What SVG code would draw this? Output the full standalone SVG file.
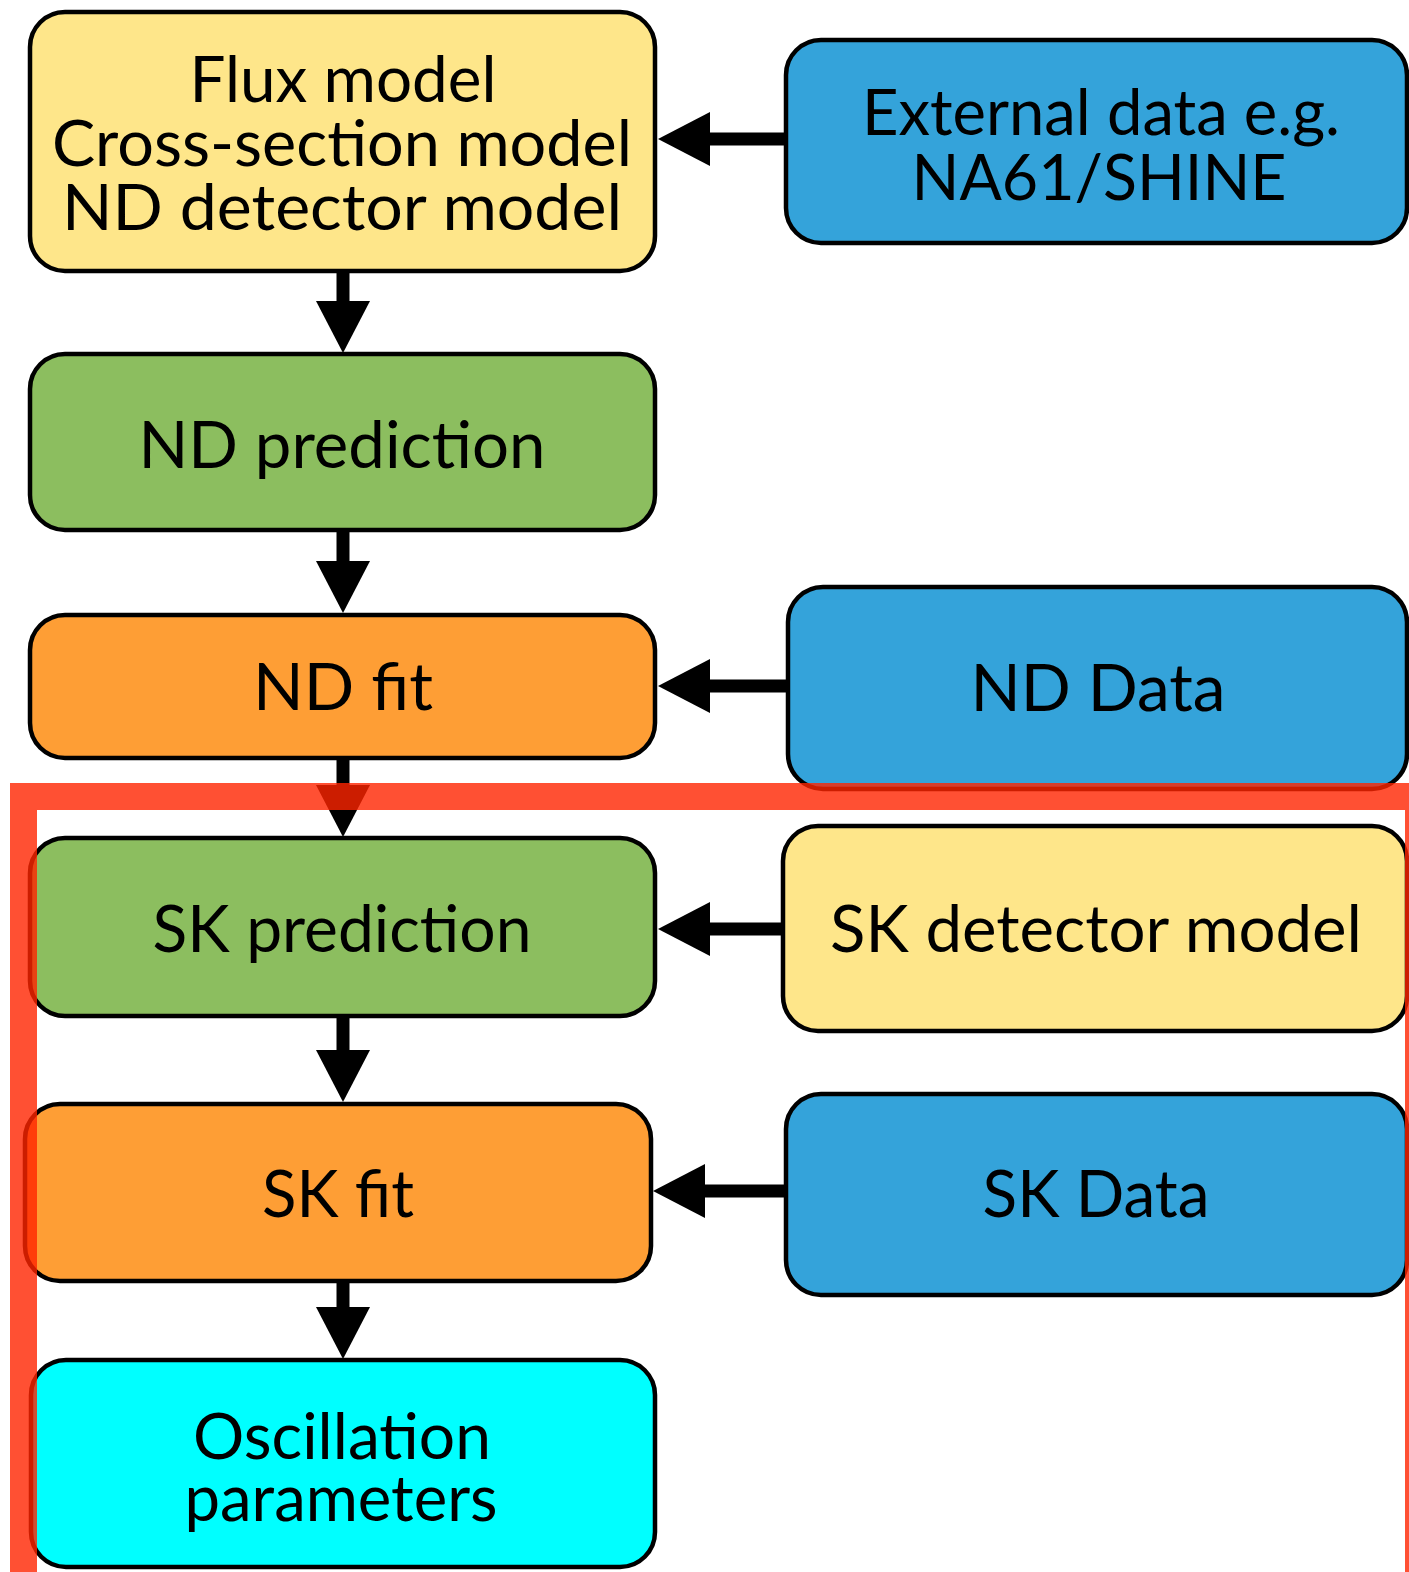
<svg xmlns="http://www.w3.org/2000/svg" width="1409" height="1572" viewBox="0 0 1409 1572">
<defs>
<style>
.box{stroke:#000;stroke-width:4.5}
.yel{fill:#FEE68A}
.blu{fill:#34A3DA}
.grn{fill:#8CBE5F}
.org{fill:#FE9E35}
.cyn{fill:#00FFFF}
.t{font-family:Lato,"Open Sans","Liberation Sans",sans-serif;font-size:66px;fill:#000;text-anchor:middle}
.m{font-size:63px}
.c{stroke:#000;stroke-width:13;fill:none}
</style>
<marker id="ah" markerUnits="userSpaceOnUse" markerWidth="54" markerHeight="56" refX="1" refY="27" orient="auto" viewBox="0 0 54 54">
<path d="M0,0 L52,27 L0,54 z" fill="#000"/>
</marker>
</defs>
<rect width="1409" height="1572" fill="#fff"/>
<g id="connectors">
<line class="c" x1="343" y1="271" x2="343" y2="302" marker-end="url(#ah)"/>
<line class="c" x1="343" y1="530" x2="343" y2="562" marker-end="url(#ah)"/>
<line class="c" x1="343" y1="757" x2="343" y2="786" marker-end="url(#ah)"/>
<line class="c" x1="343" y1="1016" x2="343" y2="1051" marker-end="url(#ah)"/>
<line class="c" x1="343" y1="1280" x2="343" y2="1308" marker-end="url(#ah)"/>
<line class="c" x1="786" y1="139" x2="709" y2="139" marker-end="url(#ah)"/>
<line class="c" x1="788" y1="686" x2="709" y2="686" marker-end="url(#ah)"/>
<line class="c" x1="783" y1="929" x2="709" y2="929" marker-end="url(#ah)"/>
<line class="c" x1="786" y1="1191" x2="704" y2="1191" marker-end="url(#ah)"/>
</g>
<g id="flux">
<rect class="box yel" x="30" y="12" width="625" height="259" rx="35"/>
<text class="t m" x="343" y="102" textLength="307" lengthAdjust="spacingAndGlyphs">Flux model</text>
<text class="t m" x="342" y="166" textLength="580" lengthAdjust="spacingAndGlyphs">Cross-section model</text>
<text class="t m" x="342" y="230" textLength="560" lengthAdjust="spacingAndGlyphs">ND detector model</text>
</g>
<g id="external">
<rect class="box blu" x="786" y="40" width="621" height="203" rx="35"/>
<text class="t m" x="1101" y="135" textLength="478" lengthAdjust="spacingAndGlyphs">External data e.g.</text>
<text class="t m" x="1099" y="200" textLength="375" lengthAdjust="spacingAndGlyphs">NA61/SHINE</text>
</g>
<g id="nd-prediction">
<rect class="box grn" x="30" y="354" width="625" height="176" rx="35"/>
<text class="t" x="342" y="468" textLength="407" lengthAdjust="spacingAndGlyphs">ND prediction</text>
</g>
<g id="nd-fit">
<rect class="box org" x="30" y="615" width="625" height="143" rx="35"/>
<text class="t" x="343" y="710" textLength="180" lengthAdjust="spacingAndGlyphs">ND fit</text>
</g>
<g id="nd-data">
<rect class="box blu" x="788" y="587" width="619" height="202" rx="35"/>
<text class="t" x="1098" y="711" textLength="255" lengthAdjust="spacingAndGlyphs">ND Data</text>
</g>
<g id="sk-prediction">
<rect class="box grn" x="30" y="838" width="625" height="178" rx="35"/>
<text class="t" x="342" y="952" textLength="379" lengthAdjust="spacingAndGlyphs">SK prediction</text>
</g>
<g id="sk-detector">
<rect class="box yel" x="783" y="826" width="624" height="205" rx="35"/>
<text class="t" x="1096" y="952" textLength="532" lengthAdjust="spacingAndGlyphs">SK detector model</text>
</g>
<g id="sk-fit">
<rect class="box org" x="25" y="1104" width="626" height="177" rx="35"/>
<text class="t" x="338" y="1217" textLength="152" lengthAdjust="spacingAndGlyphs">SK fit</text>
</g>
<g id="sk-data">
<rect class="box blu" x="786" y="1094" width="621" height="201" rx="35"/>
<text class="t" x="1096" y="1217" textLength="227" lengthAdjust="spacingAndGlyphs">SK Data</text>
</g>
<g id="oscillation">
<rect class="box cyn" x="31" y="1360" width="624" height="207" rx="35"/>
<text class="t m" x="342" y="1459" textLength="298" lengthAdjust="spacingAndGlyphs">Oscillation</text>
<text class="t m" x="341" y="1521" textLength="313" lengthAdjust="spacingAndGlyphs">parameters</text>
</g>
<g id="highlight">
<path d="M10,783 H1420 V1590 H10 Z M37,810 V1590 H1405 V810 Z" fill="#FF2400" fill-opacity="0.8" fill-rule="evenodd"/>
</g>
</svg>
